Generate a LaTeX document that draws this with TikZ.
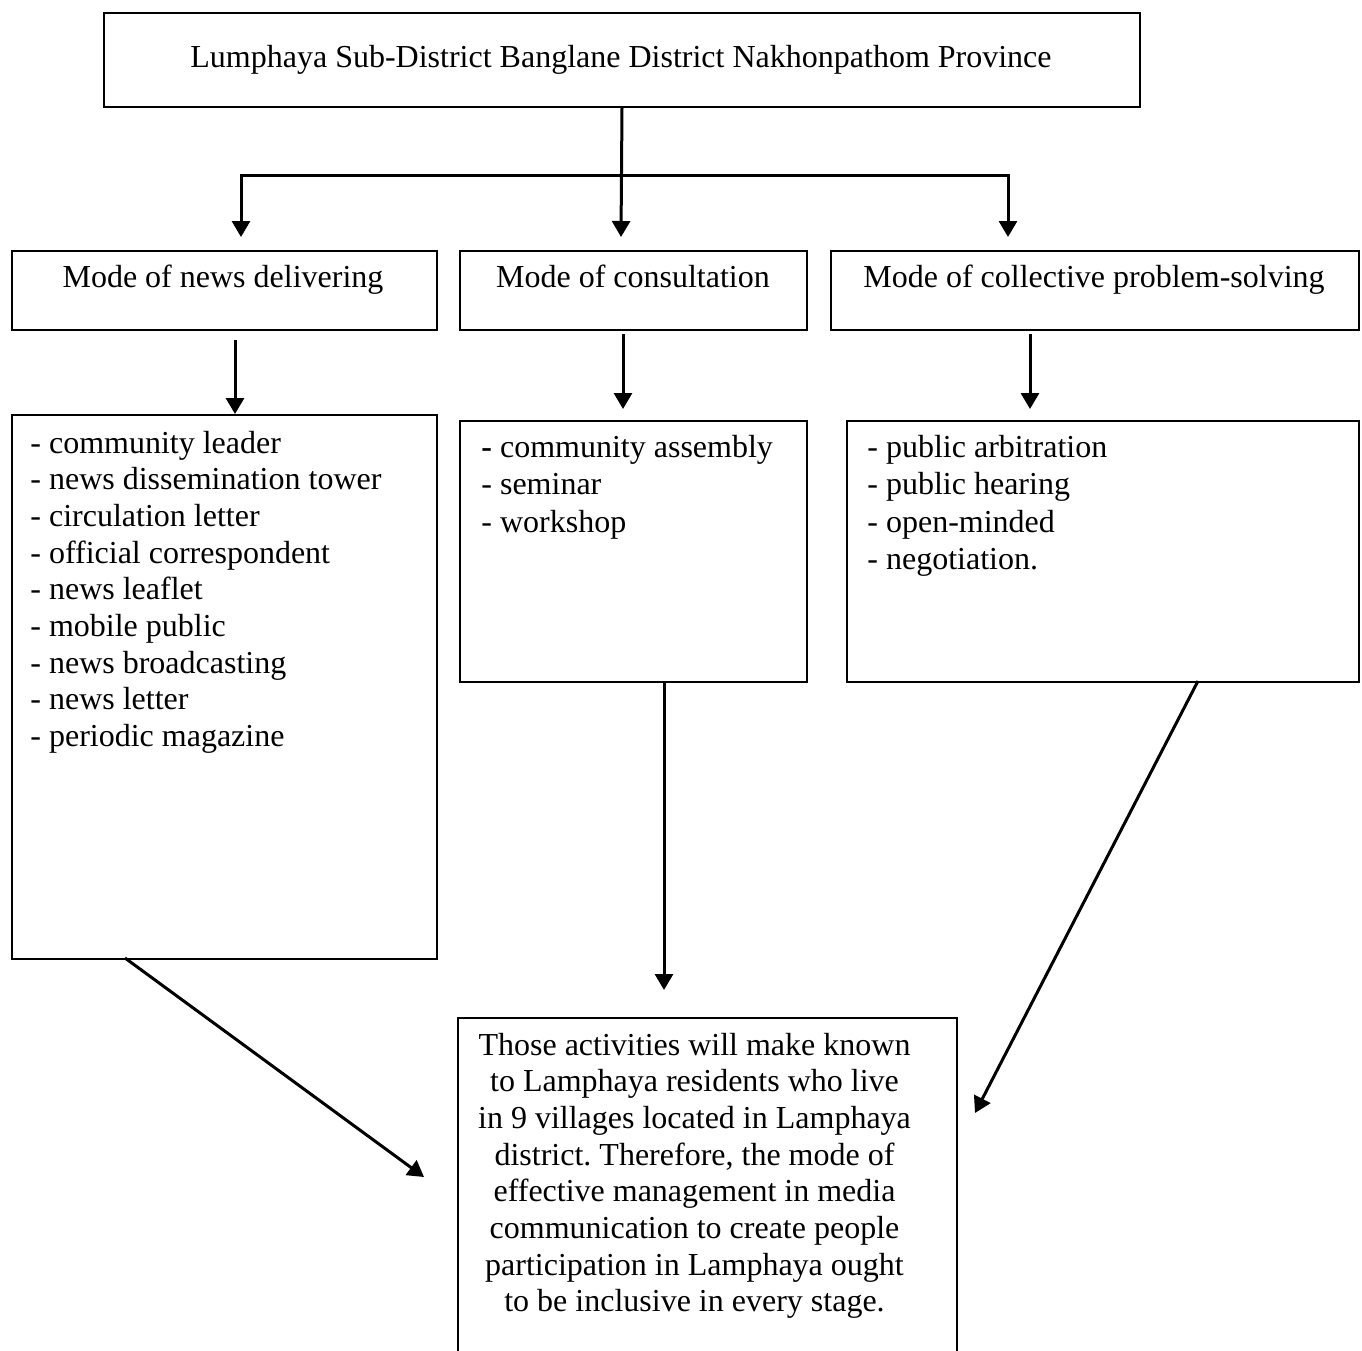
\documentclass[tikz,border=0pt]{standalone}
\usepackage{fontspec}
\setmainfont{Liberation Serif}
\usetikzlibrary{arrows.meta}
\frenchspacing
\tikzset{
  box/.style={draw, line width=1pt, inner sep=0pt, anchor=north west},
  arr/.style={line width=1.5pt, -{Triangle[length=8pt,width=9pt]}},
  txt/.style={inner sep=0pt, font=\fontsize{16}{18.4}\selectfont},
}
\begin{document}
\begin{tikzpicture}[x=0.5pt, y=-0.5pt]
    \useasboundingbox (0,0) rectangle (1362,1351);
    \clip (0,0) rectangle (1362,1351);
    % boxes
    \node[box, minimum width=518pt, minimum height=47pt] (top) at (103,12) {};
    \node[box, minimum width=212.5pt, minimum height=39.5pt] (news) at (11,250) {};
    \node[box, minimum width=173.5pt, minimum height=39.5pt] (consult) at (459,250) {};
    \node[box, minimum width=264pt, minimum height=39.5pt] (solve) at (830,250) {};
    \node[box, minimum width=212.5pt, minimum height=272pt] (newslist) at (11,414) {};
    \node[box, minimum width=173.5pt, minimum height=130.5pt] (consultlist) at (459,420) {};
    \node[box, minimum width=256pt, minimum height=130.5pt] (solvelist) at (846,420) {};
    \node[box, minimum width=249.5pt, minimum height=220pt] (result) at (457,1017) {};
    % texts
    \node[txt, anchor=base] (toptxt) at (621,67) {Lumphaya Sub-District Banglane District Nakhonpathom Province};
    \node[txt, anchor=base] (newstxt) at (223,287) {Mode of news delivering};
    \node[txt, anchor=base] (consulttxt) at (633,287) {Mode of consultation};
    \node[txt, anchor=base] (solvetxt) at (1094,287) {Mode of collective problem-solving};
    \foreach \t [count=\i from 0] in {community leader, news dissemination tower, circulation letter,
        official correspondent, news leaflet, mobile public, news broadcasting, news letter, periodic magazine}
        \node[txt, anchor=base west] (newsitem\i) at (30,{453+36.7*\i}) {- \t};
    \node[txt, anchor=base west] (consultitem0) at (481,457) {\textbf{-} community assembly};
    \foreach \t [count=\i from 1] in {seminar, workshop}
        \node[txt, anchor=base west] (consultitem\i) at (481,{457+37.5*\i}) {- \t};
    \foreach \t [count=\i from 0] in {public arbitration, public hearing, open-minded, negotiation.}
        \node[txt, anchor=base west] (solveitem\i) at (867,{457+37.5*\i}) {- \t};
    \foreach \t [count=\i from 0] in {Those activities will make known, to Lamphaya residents who live,
        in 9 villages located in Lamphaya, {district. Therefore, the mode of}, effective management in media,
        communication to create people, participation in Lamphaya ought, to be inclusive in every stage.}
        \node[txt, anchor=base] (resultline\i) at (694.5,{1055+36.7*\i}) {\t};
    % connectors
    \coordinate (split) at (621,175);
    \coordinate (ltip) at (241,237);
    \coordinate (mtip) at (621,237);
    \coordinate (rtip) at (1008,237);
    \draw[arr] (top.south) -- (mtip);
    \draw[arr] (split) -| (ltip);
    \draw[arr] (split) -| (rtip);
    \coordinate (ntail) at (235,340);
    \coordinate (ctail) at (623,334);
    \coordinate (ctip) at (623,409);
    \coordinate (stail) at (1030,334);
    \coordinate (stip) at (1030,409);
    \draw[arr] (ntail) -- (ntail |- newslist.north);
    \draw[arr] (ctail) -- (ctip);
    \draw[arr] (stail) -- (stip);
    \coordinate (nfoot) at (125,958);
    \coordinate (ntip) at (424,1177);
    \coordinate (cfoot) at (664,681);
    \coordinate (mdtip) at (664,990);
    \coordinate (sfoot) at (1198,681);
    \coordinate (stip2) at (975,1113);
    \draw[arr] (nfoot) -- (ntip);
    \draw[arr] (cfoot) -- (mdtip);
    \draw[arr] (sfoot) -- (stip2);
\end{tikzpicture}
\end{document}
